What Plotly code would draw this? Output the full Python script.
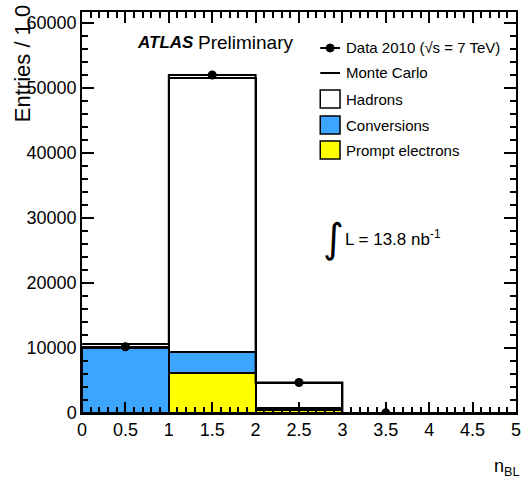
import plotly.graph_objects as go

# ---- data ----
bin_edges = [0, 1, 2, 3, 4, 5]
bin_centers = [0.5, 1.5, 2.5, 3.5, 4.5]
prompt_electrons = [0, 6100, 450, 0, 0]
conversions = [9950, 3250, 300, 0, 0]
hadrons = [250, 42150, 3900, 0, 0]
mc_total = [10600, 52000, 4700, 0, 0]
data_x = [0.5, 1.5, 2.5, 3.5]
data_y = [10200, 52000, 4700, 30]
data_err = [100, 228, 69, 5]

x_tick_step = 0.5
y_tick_step = 10000
X_RANGE = [0, 5]
Y_RANGE = [0, 61700]

BLUE = "#3ca5ff"
YELLOW = "#ffff00"
FONT = "Liberation Sans, Arial, Helvetica, sans-serif"

# pixel geometry of the plot frame
L, R, T, B = 82, 521, 12, 413
W, H = R - L, B - T
def px(x):
    return (x - L) / W
def py(y):
    return (B - y) / H

fig = go.Figure()
line_style = dict(color="black", width=2)
fig.add_trace(go.Bar(x=bin_centers, y=prompt_electrons, width=1,
                     marker=dict(color=YELLOW, line=line_style), showlegend=False))
fig.add_trace(go.Bar(x=bin_centers, y=conversions, width=1,
                     marker=dict(color=BLUE, line=line_style), showlegend=False))
fig.add_trace(go.Bar(x=bin_centers, y=hadrons, width=1,
                     marker=dict(color="white", line=line_style), showlegend=False))

# Monte Carlo total as step line
fig.add_trace(go.Scatter(x=bin_edges, y=mc_total + [mc_total[-1]], mode="lines",
                         line=dict(color="black", width=2, shape="hv"), showlegend=False))

# data points
fig.add_trace(go.Scatter(x=data_x, y=data_y, mode="markers",
                         marker=dict(color="black", size=9),
                         error_y=dict(type="data", array=data_err, color="black", thickness=1.5, width=0),
                         showlegend=False))

fig.update_layout(
    width=530, height=481,
    margin=dict(l=L, r=530 - R, t=T, b=481 - B),
    paper_bgcolor="white", plot_bgcolor="white",
    barmode="stack", bargap=0,
    font=dict(family=FONT, color="black", size=18),
)
fig.update_xaxes(
    range=X_RANGE, tickmode="linear", tick0=0, dtick=x_tick_step,
    ticks="inside", ticklen=11, tickwidth=1.6, tickcolor="black",
    minor=dict(ticks="inside", dtick=x_tick_step / 5, ticklen=6, tickwidth=1.6, tickcolor="black"),
    showline=True, linecolor="black", linewidth=1.5, mirror="allticks",
    showgrid=False, zeroline=False, tickfont=dict(size=18), layer="above traces",
)
fig.update_yaxes(
    range=Y_RANGE, tickmode="linear", tick0=0, dtick=y_tick_step, tickformat="d",
    ticks="inside", ticklen=12, tickwidth=1.6, tickcolor="black",
    minor=dict(ticks="inside", dtick=y_tick_step / 5, ticklen=6, tickwidth=1.6, tickcolor="black"),
    showline=True, linecolor="black", linewidth=1.5, mirror="allticks",
    showgrid=False, zeroline=False, tickfont=dict(size=18), layer="above traces",
)

ann = []
# axis titles
ann.append(dict(text="Entries / 1.0", x=px(22), y=py(3), xref="paper", yref="paper",
                xanchor="center", yanchor="top", textangle=-90, showarrow=False,
                font=dict(size=22)))
ann.append(dict(text="n<sub>BL</sub>", x=px(526), y=py(467), xref="paper", yref="paper",
                xanchor="right", yanchor="middle", showarrow=False, font=dict(size=18)))
# ATLAS Preliminary
ann.append(dict(text="<b><i>ATLAS</i></b>", x=px(136), y=py(43), xref="paper", yref="paper",
                xanchor="left", yanchor="middle", showarrow=False, font=dict(size=17)))
ann.append(dict(text="Preliminary", x=px(197), y=py(43), xref="paper", yref="paper",
                xanchor="left", yanchor="middle", showarrow=False, font=dict(size=19)))
# luminosity
ann.append(dict(text="\u222b", x=px(336), y=py(238), xref="paper", yref="paper",
                xanchor="center", yanchor="middle", showarrow=False, font=dict(size=40, family="DejaVu Sans")))
ann.append(dict(text="L = 13.8 nb<sup>-1</sup>", x=px(346), y=py(238), xref="paper", yref="paper",
                xanchor="left", yanchor="middle", showarrow=False, font=dict(size=17)))

# legend
legend_rows = [("Data 2010 (\u221as = 7 TeV)", 48, "data"),
               ("Monte Carlo", 73, "line"),
               ("Hadrons", 99, "white"),
               ("Conversions", 125, BLUE),
               ("Prompt electrons", 150, YELLOW)]
shapes = []
for label, yy, kind in legend_rows:
    ann.append(dict(text=label, x=px(347), y=py(yy), xref="paper", yref="paper",
                    xanchor="left", yanchor="middle", showarrow=False, font=dict(size=15)))
    if kind in ("data", "line"):
        shapes.append(dict(type="line", xref="paper", yref="paper",
                           x0=px(323), x1=px(343), y0=py(yy), y1=py(yy),
                           line=dict(color="black", width=2)))
        if kind == "data":
            shapes.append(dict(type="circle", xref="paper", yref="paper",
                               x0=px(329), x1=px(337), y0=py(yy + 4), y1=py(yy - 4),
                               fillcolor="black", line=dict(color="black", width=1)))
    else:
        shapes.append(dict(type="rect", xref="paper", yref="paper",
                           x0=px(323), x1=px(343), y0=py(yy + 9), y1=py(yy - 9),
                           fillcolor=kind, line=dict(color="black", width=1.5)))

fig.update_layout(annotations=ann, shapes=shapes)
fig.write_html("out.html")
